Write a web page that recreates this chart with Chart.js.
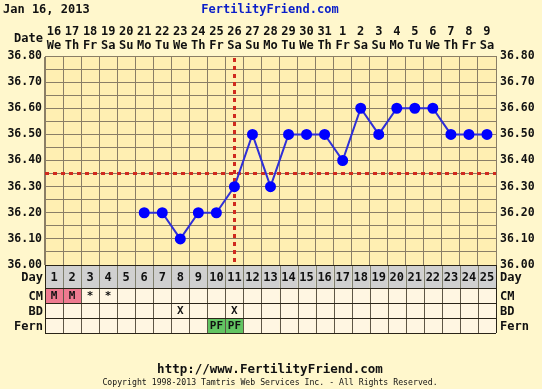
<!DOCTYPE html>
<html>
<head>
<meta charset="utf-8">
<script src="https://cdn.jsdelivr.net/npm/chart.js@4"></script>
<style>
  html, body { margin: 0; padding: 0; background: #fff7cc; }
  canvas { display: block; }
</style>
</head>
<body>
<canvas id="chart" width="542" height="389"></canvas>
<script>
const dates = ["16","17","18","19","20","21","22","23","24","25","26","27","28","29","30","31","1","2","3","4","5","6","7","8","9"];
const weekdays = ["We","Th","Fr","Sa","Su","Mo","Tu","We","Th","Fr","Sa","Su","Mo","Tu","We","Th","Fr","Sa","Su","Mo","Tu","We","Th","Fr","Sa"];
const cycleDays = ["1","2","3","4","5","6","7","8","9","10","11","12","13","14","15","16","17","18","19","20","21","22","23","24","25"];
const temps = [null, null, null, null, null, 36.20, 36.20, 36.10, 36.20, 36.20, 36.30, 36.50, 36.30, 36.50, 36.50, 36.50, 36.40, 36.60, 36.50, 36.60, 36.60, 36.60, 36.50, 36.50, 36.50];
const cmRow = ["M","M","*","*","","","","","","","","","","","","","","","","","","","","",""];
const bdRow = ["","","","","","","","X","","","X","","","","","","","","","","","","","",""];
const fernRow = ["","","","","","","","","","PF","PF","","","","","","","","","","","","","",""];
const coverline = 36.35;
const ovulationIndex = 10;

const FONT = "'DejaVu Sans Mono', monospace";
const gridColor = "#8a7e66";
const tableLine = "#2a2418";

function cellFill(row, v) {
  if (row === "CM" && v === "M") return "#ee7a90";
  if (row === "Fern" && v === "PF") return "#62c462";
  return "#fff6e2";
}

const decor = {
  id: "decor",
  beforeDraw(chart) {
    const { ctx, chartArea: a } = chart;
    ctx.save();
    ctx.fillStyle = "#fff7cc";
    ctx.fillRect(0, 0, chart.width, chart.height);
    ctx.fillStyle = "#ffefb2";
    ctx.fillRect(a.left, a.top, a.right - a.left, a.bottom - a.top);
    ctx.restore();
  },
  beforeDatasetsDraw(chart) {
    const { ctx, chartArea: a, scales } = chart;
    const yc = Math.round(scales.y.getPixelForValue(coverline)) - 0.5;
    const xo = Math.round(scales.x.getPixelForValue(ovulationIndex)) + 0.5;
    ctx.save();
    ctx.strokeStyle = "#d02a1e";
    ctx.lineWidth = 3;
    ctx.setLineDash([4, 4]);
    ctx.beginPath();
    ctx.moveTo(a.left, yc);
    ctx.lineTo(a.right, yc);
    ctx.stroke();
    ctx.beginPath();
    ctx.moveTo(xo, a.top + 2);
    ctx.lineTo(xo, a.bottom);
    ctx.stroke();
    ctx.restore();
  },
  afterDraw(chart) {
    const { ctx, chartArea: a, scales } = chart;
    const colW = (a.right - a.left) / dates.length;
    const rows = [
      { name: "Day", h: 23, vals: cycleDays },
      { name: "CM", h: 15, vals: cmRow },
      { name: "BD", h: 15, vals: bdRow },
      { name: "Fern", h: 15, vals: fernRow }
    ];
    ctx.save();
    let top = a.bottom;
    rows.forEach((r) => {
      for (let i = 0; i < dates.length; i++) {
        const cx = scales.x.getPixelForValue(i);
        const l = cx - colW / 2;
        ctx.fillStyle = r.name === "Day" ? "#d0d0d0" : cellFill(r.name, r.vals[i]);
        ctx.fillRect(l, top, colW, r.h);
        ctx.strokeStyle = r.name === "Day" ? "#80806f" : "#5e5646";
        ctx.lineWidth = 1;
        ctx.beginPath();
        ctx.moveTo(Math.round(l) + 0.5, top);
        ctx.lineTo(Math.round(l) + 0.5, top + r.h);
        ctx.stroke();
        if (r.vals[i]) {
          ctx.fillStyle = "#111";
          ctx.font = "bold " + (r.name === "Day" ? 12 : 11) + "px " + FONT;
          ctx.textAlign = "center";
          ctx.textBaseline = "middle";
          ctx.fillText(r.vals[i], cx, top + r.h / 2 + 1);
        }
      }
      ctx.fillStyle = "#111";
      ctx.font = "bold 12px " + FONT;
      ctx.textBaseline = "middle";
      ctx.textAlign = "right";
      ctx.fillText(r.name, a.left - 2, top + r.h / 2 + 1);
      ctx.textAlign = "left";
      ctx.fillText(r.name, a.right + 4, top + r.h / 2 + 1);
      ctx.strokeStyle = tableLine;
      ctx.beginPath();
      ctx.moveTo(a.left, Math.round(top) + 0.5);
      ctx.lineTo(a.right, Math.round(top) + 0.5);
      ctx.stroke();
      top += r.h;
    });
    ctx.strokeStyle = tableLine;
    ctx.beginPath();
    ctx.moveTo(a.left, Math.round(top) + 0.5);
    ctx.lineTo(a.right, Math.round(top) + 0.5);
    ctx.moveTo(Math.round(a.left) + 0.5, a.bottom);
    ctx.lineTo(Math.round(a.left) + 0.5, top);
    ctx.moveTo(Math.round(a.right) + 0.5, a.bottom);
    ctx.lineTo(Math.round(a.right) + 0.5, top);
    ctx.stroke();

    // header and footer text
    ctx.fillStyle = "#111";
    ctx.font = "bold 12px " + FONT;
    ctx.textAlign = "left";
    ctx.textBaseline = "middle";
    ctx.fillText("Jan 16, 2013", 3, 10);
    ctx.textAlign = "right";
    ctx.fillText("Date", a.left - 2, 39);
    ctx.fillStyle = "#0a1ec8";
    ctx.textAlign = "center";
    ctx.fillText("FertilityFriend.com", 270, 10);
    ctx.fillStyle = "#111";
    ctx.font = "bold 12.5px " + FONT;
    ctx.fillText("http://www.FertilityFriend.com", 270, 370);
    ctx.font = "8.2px " + FONT;
    ctx.fillText("Copyright 1998-2013 Tamtris Web Services Inc. - All Rights Reserved.", 270, 383);
    ctx.restore();
  }
};

const yTicks = {
  min: 36.0,
  max: 36.8,
  grid: { color: gridColor, drawTicks: false },
  border: { color: gridColor },
  ticks: {
    stepSize: 0.05,
    autoSkip: false,
    maxTicksLimit: 40,
    padding: 3,
    color: "#111",
    font: { family: FONT, size: 11.5, weight: "bold" },
    callback: (v) => (Math.round(v * 100) % 10 === 0 ? Number(v).toFixed(2) : "")
  }
};

new Chart(document.getElementById("chart"), {
  type: "line",
  data: {
    labels: dates.map((d, i) => [d, weekdays[i]]),
    datasets: [{
      data: temps,
      yAxisID: "y",
      borderColor: "#2f2fd8",
      borderWidth: 2,
      pointBackgroundColor: "#0000ff",
      pointBorderColor: "#0000ff",
      pointRadius: 4.5,
      tension: 0
    }]
  },
  options: {
    responsive: false,
    animation: false,
    layout: { padding: { top: 0, bottom: 124, left: 0, right: 0 } },
    plugins: { legend: { display: false }, tooltip: { enabled: false } },
    scales: {
      x: {
        position: "top",
        offset: true,
        grid: { offset: true, color: gridColor, drawTicks: false },
        border: { color: gridColor },
        afterFit: (s) => { s.height = 56; },
        ticks: {
          autoSkip: false,
          maxRotation: 0,
          padding: 3,
          color: "#111",
          font: { family: FONT, size: 12, weight: "bold", lineHeight: 1.15 }
        }
      },
      y: Object.assign({ position: "left", afterFit: (s) => { s.width = 45; } }, yTicks),
      y2: Object.assign({}, yTicks, {
        position: "right",
        grid: { display: false, drawTicks: false },
        afterFit: (s) => { s.width = 46; },
        ticks: Object.assign({}, yTicks.ticks, { padding: 4 })
      })
    }
  },
  plugins: [decor]
});
</script>
</body>
</html>
